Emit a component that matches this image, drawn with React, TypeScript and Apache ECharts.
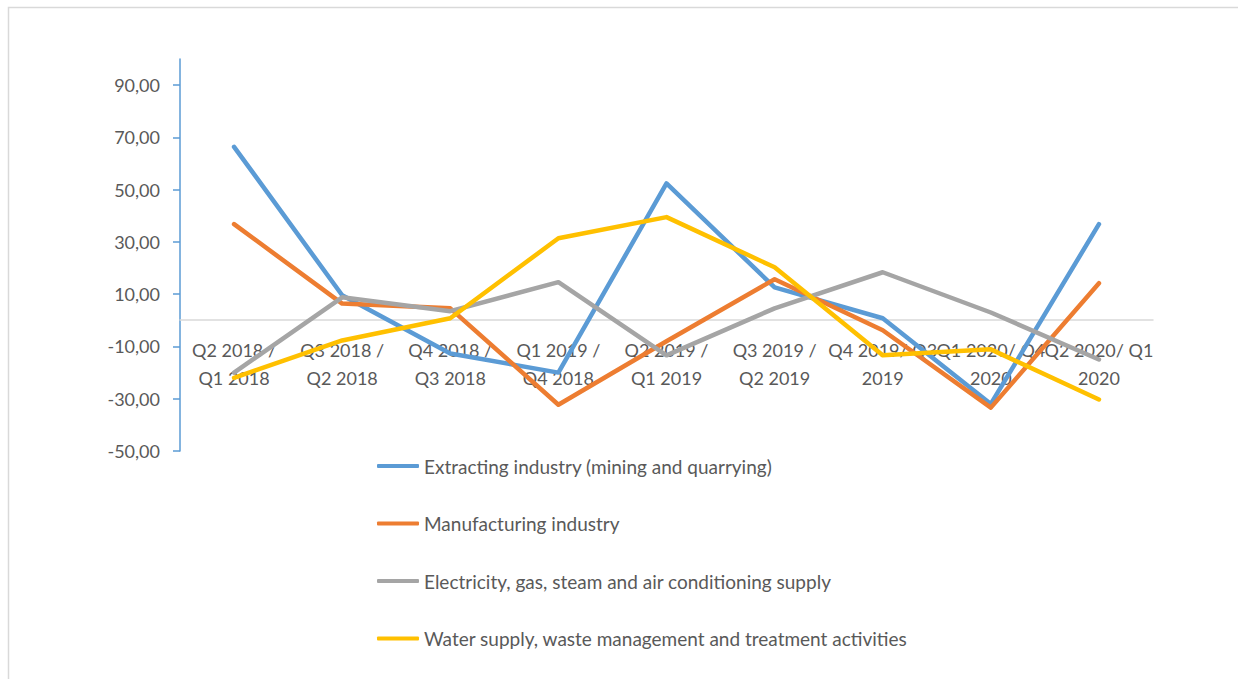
import React, { useEffect, useRef } from "react";
import * as echarts from "echarts";

const categories = [
  "Q2 2018 /\nQ1 2018",
  "Q3 2018 /\nQ2 2018",
  "Q4 2018 /\nQ3 2018",
  "Q1 2019 /\nQ4 2018",
  "Q2 2019 /\nQ1 2019",
  "Q3 2019 /\nQ2 2019",
  "Q4 2019/ Q3\n2019",
  "Q1 2020/ Q4\n2020",
  "Q2 2020/ Q1\n2020",
];

const extracting = [66.4, 9.6, -12.7, -20.0, 52.4, 12.6, 0.8, -32.0, 36.8];
const manufacturing = [36.8, 6.4, 4.6, -32.3, -8.0, 15.7, -3.8, -33.4, 14.2];
const electricity = [-20.0, 8.8, 3.5, 14.6, -13.4, 4.6, 18.4, 3.0, -15.0];
const water = [-22.0, -7.7, 0.8, 31.4, 39.5, 20.3, -13.4, -11.1, -30.3];

const seriesNames = [
  "Extracting industry (mining and quarrying)",
  "Manufacturing industry",
  "Electricity, gas, steam and air conditioning supply",
  "Water supply, waste management and treatment activities",
];
const colors = ["#5B9BD5", "#ED7D31", "#A5A5A5", "#FFC000"];
const yTicks = [-50, -30, -10, 10, 30, 50, 70, 90];

const FONT = "Lato, 'Noto Sans', sans-serif";

export default function App() {
  const ref = useRef<HTMLDivElement>(null);
  useEffect(() => {
    if (!ref.current) return;
    const chart = echarts.init(ref.current, undefined, { renderer: "svg" });
    const data = [extracting, manufacturing, electricity, water];
    chart.setOption({
      animation: false,
      backgroundColor: "#ffffff",
      textStyle: { fontFamily: FONT },
      graphic: [
        {
          type: "rect",
          shape: { x: 8.5, y: 7.5, width: 1300, height: 800 },
          style: { fill: "none", stroke: "#D9D9D9", lineWidth: 1.5 },
          silent: true,
        },
      ],
      grid: { left: 180, top: 59, width: 973, height: 392 },
      xAxis: {
        type: "category",
        data: categories,
        boundaryGap: true,
        offset: -131,
        axisLine: { onZero: false, lineStyle: { color: "#D9D9D9", width: 1.5 } },
        axisTick: { show: false },
        axisLabel: {
          interval: 0,
          color: "#595959",
          fontSize: 18,
          lineHeight: 28,
          margin: 16,
          fontFamily: FONT,
        },
        splitLine: { show: false },
      },
      yAxis: {
        type: "value",
        min: -50,
        max: 100,
        axisLine: { show: true, lineStyle: { color: "#5B9BD5", width: 1.5 } },
        axisTick: {
          show: true,
          length: 7,
          customValues: yTicks,
          lineStyle: { color: "#5B9BD5", width: 1.5 },
        },
        axisLabel: {
          customValues: yTicks,
          color: "#595959",
          fontSize: 18,
          margin: 20,
          fontFamily: FONT,
          formatter: (v: number) => v.toFixed(2).replace(".", ","),
        },
        splitLine: { show: false },
      },
      legend: {
        orient: "vertical",
        left: 377,
        top: 455,
        padding: 0,
        itemWidth: 42,
        itemHeight: 4,
        itemGap: 35.5,
        icon: "roundRect",
        textStyle: { color: "#595959", fontSize: 19, lineHeight: 22, fontFamily: FONT },
        data: seriesNames,
      },
      series: seriesNames.map((name, i) => ({
        name,
        type: "line",
        data: data[i],
        symbol: "none",
        color: colors[i],
        lineStyle: { width: 4.5, color: colors[i], cap: "round", join: "round" },
      })),
    });
    return () => chart.dispose();
  }, []);
  return (
    <div
      ref={ref}
      style={{ position: "absolute", left: 0, top: 0, width: 1238, height: 679 }}
    />
  );
}
